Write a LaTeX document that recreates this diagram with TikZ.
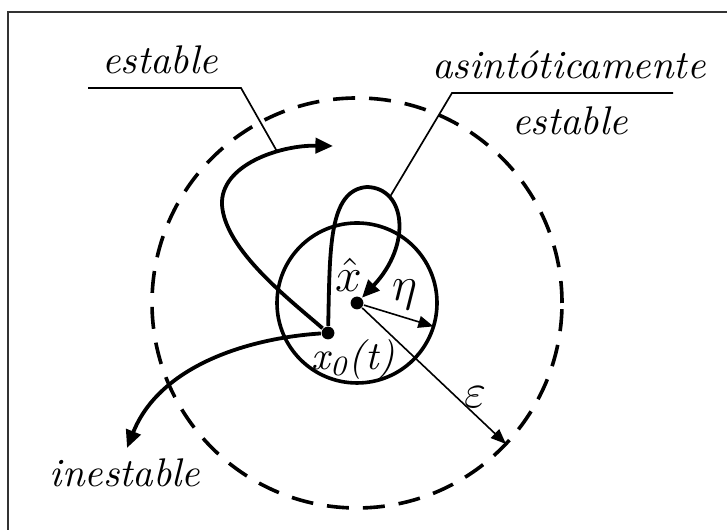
\documentclass[tikz,border=0pt]{standalone}
\usepackage{amsmath}
\usetikzlibrary{arrows.meta}
\definecolor{FrameGray}{HTML}{333333}

\begin{document}
\begin{tikzpicture}[x=0.25pt,y=-0.25pt,font=\itshape,
    traj/.style={line width=0.95pt,-{Triangle[length=4.4pt,width=3.8pt]}},
    radline/.style={line width=0.4pt,-{Triangle[length=3.8pt,width=3pt]}},
    leader/.style={line width=0.42pt},
    point/.style={circle,fill,inner sep=0pt,minimum size=3.2pt}]
  \useasboundingbox (0,0) rectangle (727,530);
  \draw[FrameGray,line width=0.5pt] (8,530) -- (8,12) -- (727,12);

  % Equilibrium point and initial state
  \node[point] (xhat) at (357,303) {};
  \node[point] (xo) at (328,333) {};
  \draw[line width=0.9pt] (xhat.center) circle[radius=20pt];
  \draw[line width=0.9pt,dash pattern=on 5.5pt off 3.5pt]
    (xhat.center) circle[radius=51.25pt];

  % Radii of the two neighbourhoods
  \coordinate (etaend) at (433.5,326.4);
  \coordinate (epsend) at (506,444);
  \draw[radline] (xhat) -- (etaend);
  \draw[radline] (xhat) -- (epsend);
  \node[font=\large] (lbleta) at (405,295) {$\eta$};
  \node[font=\large] (lbleps) at (475,397) {$\varepsilon$};
  \node[font=\large] (lblxhat) at (349,275) {$\hat{x}$};
  \node (lblxo) at (353,360) {x\textsubscript{0}(t)};

  % Three trajectories leaving x0
  \draw[traj] (xo) .. controls (290,300) and (225,250) .. (222,205)
    .. controls (220,165) and (280,145) .. (333,146);
  \draw[traj] (xo) .. controls (330,250) and (328,190) .. (367,187)
    .. controls (406,188) and (412,245) .. (xhat);
  \draw[traj] (xo) .. controls (250,338) and (160,365) .. (127,448);
  \node (lblunstab) at (125,473) {inestable};

  % Leader lines to the labels
  \coordinate (stabfoot) at (277.7,152.6);
  \coordinate (stabknee) at (241,88);
  \coordinate (stabend) at (88,88);
  \draw[leader] (stabfoot) -- (stabknee) -- (stabend);
  \node[anchor=south] (lblstab) at (160,88) {estable};
  \coordinate (asymfoot) at (389.6,197.4);
  \coordinate (asymknee) at (452,93);
  \coordinate (asymend) at (673,93);
  \draw[leader] (asymfoot) -- (asymknee) -- (asymend);
  \node[anchor=south] (lblasym) at (569,93) {asintóticamente};
  \node[anchor=north] (lblasymb) at (570,93) {estable};
\end{tikzpicture}
\end{document}
